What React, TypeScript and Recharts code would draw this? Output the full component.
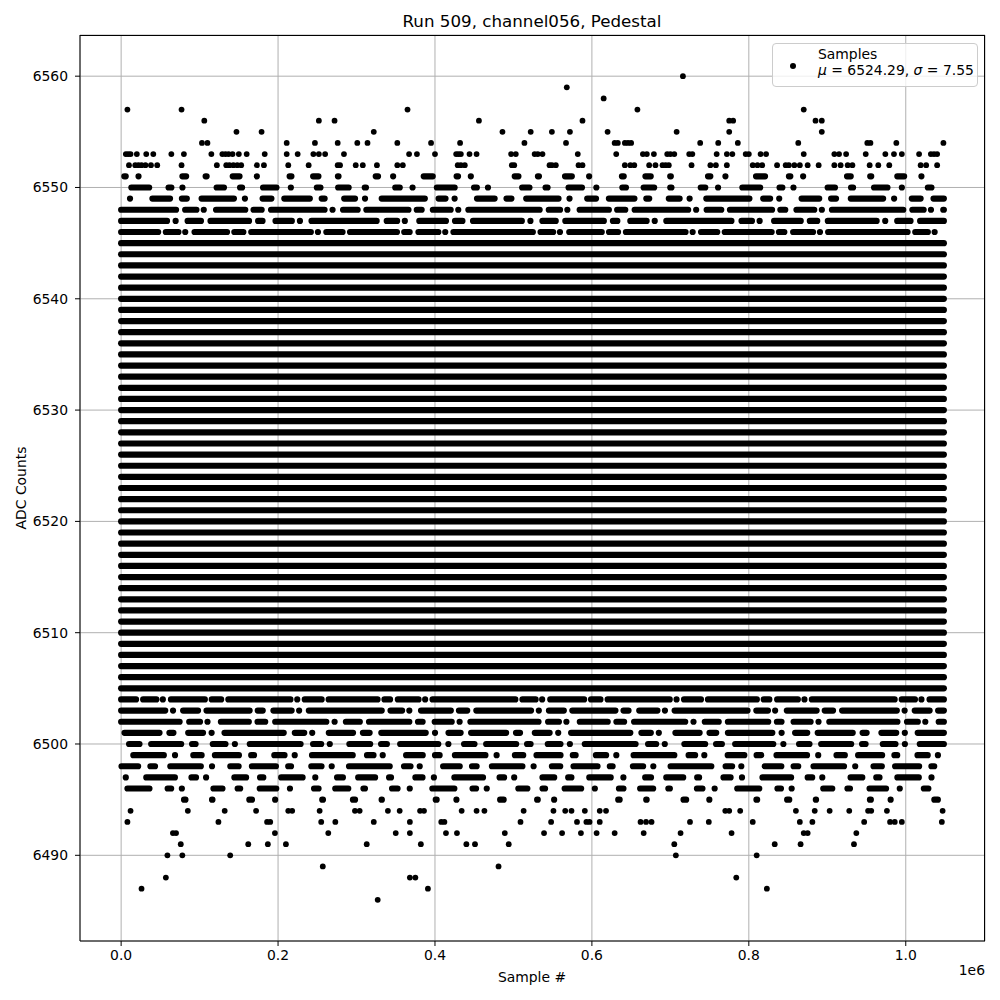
import { ScatterChart, Scatter, XAxis, YAxis, CartesianGrid } from "recharts";

// sample index range of the run (2^20 samples)
const FIRST_SAMPLE = 0;
const LAST_SAMPLE = 1048575;

const xTicks = [0, 200000, 400000, 600000, 800000, 1000000];
const yTicks = [6490, 6500, 6510, 6520, 6530, 6540, 6550, 6560];

// ADC levels hit so often that the dots merge into a continuous line
const solidLevels = [
  6505, 6506, 6507, 6508, 6509, 6510, 6511, 6512, 6513, 6514, 6515, 6516, 6517, 6518,
  6519, 6520, 6521, 6522, 6523, 6524, 6525, 6526, 6527, 6528, 6529, 6530, 6531, 6532,
  6533, 6534, 6535, 6536, 6537, 6538, 6539, 6540, 6541, 6542, 6543, 6544, 6545,
];

// levels with gaps, and roughly how much of the row is inked
const dashedLevels = [6495, 6496, 6497, 6498, 6499, 6500, 6501, 6502, 6503, 6504, 6546, 6547, 6548, 6549, 6550, 6551];
const dashedFill = [0.2, 0.5, 0.57, 0.68, 0.68, 0.76, 0.82, 0.88, 0.91, 0.97, 0.95, 0.86, 0.9, 0.7, 0.45, 0.32];

// isolated samples in the tails
const row6560 = [716000];
const row6559 = [568000];
const row6558 = [615000];
const row6557 = [8000, 77000, 365000, 658000, 870000];
const row6556 = [106000, 252000, 272000, 456000, 588000, 775000, 780000, 885000, 893000];
const row6555 = [147000, 179000, 322000, 486000, 522000, 549000, 572000, 620000, 708000, 775000, 893000];
const row6554 = [
  103000, 110000, 211000, 247000, 276000, 301000, 314000, 352000, 395000, 432000, 514000, 567000,
  629000, 633000, 642000, 646000, 650000, 738000, 761000, 786000, 863000, 951000, 955000, 988000, 1048000,
];
const row6553 = [
  6000, 9000, 12000, 20000, 32000, 41000, 64000, 80000, 115000, 129000, 133000, 137000, 142000, 150000,
  160000, 183000, 211000, 225000, 245000, 252000, 260000, 284000, 367000, 377000, 400000, 427000, 430000,
  433000, 444000, 453000, 497000, 503000, 527000, 531000, 537000, 582000, 631000, 665000, 670000, 679000,
  696000, 700000, 705000, 724000, 728000, 759000, 772000, 779000, 796000, 800000, 815000, 822000, 870000,
  909000, 915000, 924000, 949000, 974000, 985000, 995000, 1017000, 1032000, 1036000, 1040000,
];
const row6552 = [
  10000, 18000, 22000, 26000, 31000, 38000, 46000, 77000, 122000, 134000, 138000, 143000, 148000, 153000,
  173000, 182000, 213000, 239000, 276000, 279000, 299000, 308000, 326000, 352000, 359000, 429000, 433000,
  438000, 498000, 501000, 546000, 549000, 554000, 583000, 588000, 642000, 649000, 654000, 673000, 681000,
  690000, 694000, 698000, 727000, 751000, 758000, 772000, 805000, 811000, 817000, 836000, 847000, 851000,
  858000, 865000, 875000, 889000, 909000, 917000, 926000, 932000, 954000, 965000, 979000, 1019000, 1026000,
  1040000,
];
const row6494 = [
  12000, 85000, 132000, 172000, 213000, 218000, 253000, 298000, 304000, 340000, 355000, 381000, 386000,
  434000, 453000, 463000, 513000, 551000, 566000, 574000, 591000, 610000, 618000, 770000, 775000, 789000,
  860000, 884000, 903000, 928000, 952000, 956000, 976000, 1047000,
];
const row6493 = [
  8000, 124000, 186000, 190000, 255000, 273000, 322000, 368000, 408000, 412000, 509000, 548000, 581000,
  593000, 597000, 610000, 662000, 669000, 676000, 725000, 749000, 805000, 865000, 881000, 947000, 980000,
  986000, 995000, 1046000,
];
const row6492 = [
  66000, 70000, 196000, 264000, 350000, 368000, 414000, 428000, 489000, 539000, 562000, 586000, 606000,
  629000, 666000, 713000, 778000, 870000, 875000, 937000,
];
const row6491 = [76000, 162000, 187000, 210000, 313000, 382000, 440000, 451000, 494000, 705000, 833000, 866000, 934000];
const row6490 = [59000, 78000, 139000, 707000, 810000];
const row6489 = [257000, 481000];
const row6488 = [57000, 368000, 375000, 784000];
const row6487 = [26000, 391000, 823000];
const row6486 = [327000];

const outlierRows: [number, number[]][] = [
  [6560, row6560], [6559, row6559], [6558, row6558], [6557, row6557], [6556, row6556],
  [6555, row6555], [6554, row6554], [6553, row6553], [6552, row6552],
  [6494, row6494], [6493, row6493], [6492, row6492], [6491, row6491], [6490, row6490],
  [6489, row6489], [6488, row6488], [6487, row6487], [6486, row6486],
];
const outliers = outlierRows.flatMap(([level, xs]) => xs.map((x) => ({ x, y: level })));

const DOT = 5.8;
const ROW = 6.2;
const FONT = "'DejaVu Sans', sans-serif";

// irregular dash rhythm so the partly filled rows don't look machine-regular
const RUNS = [26, 3, 11, 0, 44, 7, 0, 18, 5, 33, 0, 9];
const GAPS = [6, 14, 4, 11, 8, 3, 17, 6, 9, 5, 12, 7];
function dashPattern(fill: number) {
  const runs = RUNS.map((r) => r * fill * fill * 2);
  const inked = runs.reduce((a, b) => a + b, 0) + runs.length * ROW;
  const blank = (inked * (1 - fill)) / fill;
  const gw = GAPS.reduce((a, b) => a + b, 0);
  return runs.map((r, i) => `${r.toFixed(1)} ${((blank * GAPS[i]) / gw + ROW).toFixed(1)}`).join(" ");
}

const rowData = (level: number) => [
  { x: FIRST_SAMPLE, y: level },
  { x: LAST_SAMPLE, y: level },
];

const noDot = () => <g />;
const dot = (p: any) => <circle cx={p.cx} cy={p.cy} r={DOT / 2} fill="#000" />;

const tick = { fontSize: 13.9, fontFamily: FONT, fill: "#000" };

export default function App() {
  return (
    <div style={{ position: "absolute", left: 0, top: 0, width: 1000, height: 1000, background: "#fff", fontFamily: FONT }}>
      <ScatterChart width={1000} height={1000} margin={{ top: 35, right: 15, bottom: 0, left: 0 }}>
        <CartesianGrid stroke="#b0b0b0" strokeWidth={1} />
        <XAxis
          type="number"
          dataKey="x"
          domain={[-52429, 1101004]}
          ticks={xTicks}
          tickFormatter={(v) => (v / 1e6).toFixed(1)}
          allowDataOverflow
          height={59}
          tick={tick}
          tickSize={5}
          tickMargin={4}
          axisLine={{ stroke: "#000" }}
          tickLine={{ stroke: "#000" }}
        />
        <YAxis
          type="number"
          dataKey="y"
          domain={[6482.3, 6563.7]}
          ticks={yTicks}
          allowDataOverflow
          width={80}
          tick={tick}
          tickSize={5}
          tickMargin={7}
          axisLine={{ stroke: "#000" }}
          tickLine={{ stroke: "#000" }}
        />
        {solidLevels.map((level) => (
          <Scatter
            key={`s${level}`}
            data={rowData(level)}
            shape={noDot}
            line={{ stroke: "#000", strokeWidth: ROW, strokeLinecap: "round" }}
            isAnimationActive={false}
          />
        ))}
        {dashedLevels.map((level, i) => (
          <Scatter
            key={`d${level}`}
            data={rowData(level)}
            shape={noDot}
            line={{
              stroke: "#000",
              strokeWidth: ROW,
              strokeLinecap: "round",
              strokeDasharray: dashPattern(dashedFill[i]),
              strokeDashoffset: level * 37,
            }}
            isAnimationActive={false}
          />
        ))}
        <Scatter data={outliers} shape={dot} isAnimationActive={false} />
      </ScatterChart>

      {/* top and right spines */}
      <div
        style={{
          position: "absolute",
          left: 80,
          top: 35,
          width: 905,
          height: 906,
          boxSizing: "border-box",
          borderTop: "1px solid #000",
          borderRight: "1px solid #000",
          pointerEvents: "none",
        }}
      />

      <div style={{ position: "absolute", left: 532, top: 21, transform: "translate(-50%, -50%)", fontSize: 16.7, whiteSpace: "nowrap" }}>
        Run 509, channel056, Pedestal
      </div>
      <div style={{ position: "absolute", left: 532, top: 977, transform: "translate(-50%, -50%)", fontSize: 13.9, whiteSpace: "nowrap" }}>
        Sample #
      </div>
      <div
        style={{
          position: "absolute",
          left: 21,
          top: 488,
          transform: "translate(-50%, -50%) rotate(-90deg)",
          fontSize: 13.9,
          whiteSpace: "nowrap",
        }}
      >
        ADC Counts
      </div>
      <div style={{ position: "absolute", right: 15, top: 970, transform: "translateY(-50%)", fontSize: 13.9 }}>1e6</div>

      {/* legend */}
      <div
        style={{
          position: "absolute",
          left: 772,
          top: 43,
          width: 206,
          height: 44,
          boxSizing: "border-box",
          background: "rgba(255,255,255,0.8)",
          border: "1px solid #cccccc",
          borderRadius: 4,
          fontSize: 13.9,
        }}
      >
        <div style={{ position: "absolute", left: 17, top: 19, width: 6, height: 6, borderRadius: 3, background: "#000" }} />
        <div style={{ position: "absolute", left: 45, top: 2, lineHeight: "16px", whiteSpace: "nowrap" }}>
          Samples
          <br />
          <i>μ</i> = 6524.29, <i>σ</i> = 7.55
        </div>
      </div>
    </div>
  );
}
